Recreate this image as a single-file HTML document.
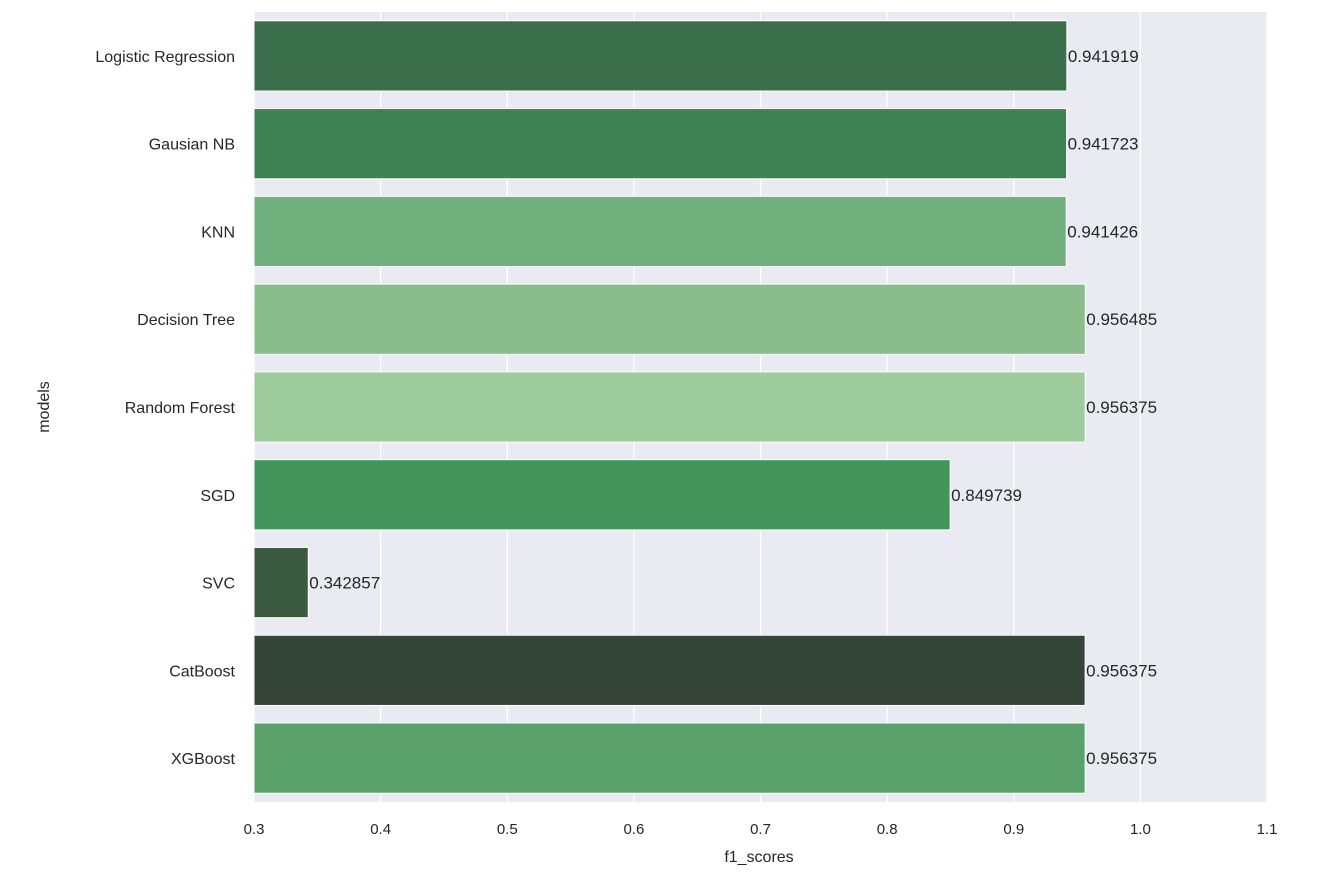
<!DOCTYPE html>
<html><head><meta charset="utf-8"><style>
body{margin:0;background:#fff;}
svg{display:block;font-family:"Liberation Sans",Arial,sans-serif;}
</style></head><body>
<svg id="chart" width="1323" height="882">
<rect x="254" y="12" width="1013" height="790" fill="#eaeaf2"/>
<g id="grid"></g><g id="bars"></g><g id="labels"></g><g id="ticks"></g>
<text x="759" y="862" font-size="16" fill="#262626" text-anchor="middle">f1_scores</text>
<text x="0" y="0" font-size="16" fill="#262626" text-anchor="middle" transform="translate(49,407) rotate(-90)">models</text>
</svg>
<script>
const categories=["Logistic Regression","Gausian NB","KNN","Decision Tree","Random Forest","SGD","SVC","CatBoost","XGBoost"];
const values=[0.941919,0.941723,0.941426,0.956485,0.956375,0.849739,0.342857,0.956375,0.956375];
const valueLabels=["0.941919","0.941723","0.941426","0.956485","0.956375","0.849739","0.342857","0.956375","0.956375"];
const colors=["#3b6e4b","#3e8152","#70b07c","#89bd8b","#9ecc9c","#42945a","#3a5a40","#354638","#5aa26a"];
const xTicks=[0.3,0.4,0.5,0.6,0.7,0.8,0.9,1.0,1.1];
const xTickLabels=["0.3","0.4","0.5","0.6","0.7","0.8","0.9","1.0","1.1"];
const NS="http://www.w3.org/2000/svg";
const x0=254,x1=1267,y0=12,y1=802,vmin=0.3,vmax=1.1;
const xs=v=>x0+(v-vmin)/(vmax-vmin)*(x1-x0);
const band=(y1-y0)/categories.length;
const yc=i=>y0+band*(i+0.5);
function mk(t,a,p){const e=document.createElementNS(NS,t);for(const k in a)e.setAttribute(k,a[k]);p.appendChild(e);return e;}
const g=document.getElementById('grid'),b=document.getElementById('bars'),l=document.getElementById('labels'),tk=document.getElementById('ticks');
xTicks.forEach((v,i)=>{
 const ln=mk('line',{x1:xs(v),x2:xs(v),y1:y0,y2:y1,stroke:'#fff','stroke-width':1.3},g);
 
 
 const t=mk('text',{x:xs(v),y:834,'font-size':15,fill:'#262626','text-anchor':'middle'},tk);
 t.textContent=xTickLabels[i];
 
 
});
categories.forEach((c,i)=>{
 const h=band*0.8;
 const r=mk('rect',{x:x0,y:yc(i)-h/2,width:xs(values[i])-x0,height:h,fill:colors[i],stroke:'#fff','stroke-width':1},b);
 
 
 const t=mk('text',{x:xs(values[i])+1,y:yc(i)+6,'font-size':17,fill:'#262626'},l);
 t.textContent=valueLabels[i];
 
 
 const yt=mk('text',{x:235,y:yc(i)+6,'font-size':16,fill:'#262626','text-anchor':'end'},tk);
 yt.textContent=c;
 
 
});
</script>
</body></html>
